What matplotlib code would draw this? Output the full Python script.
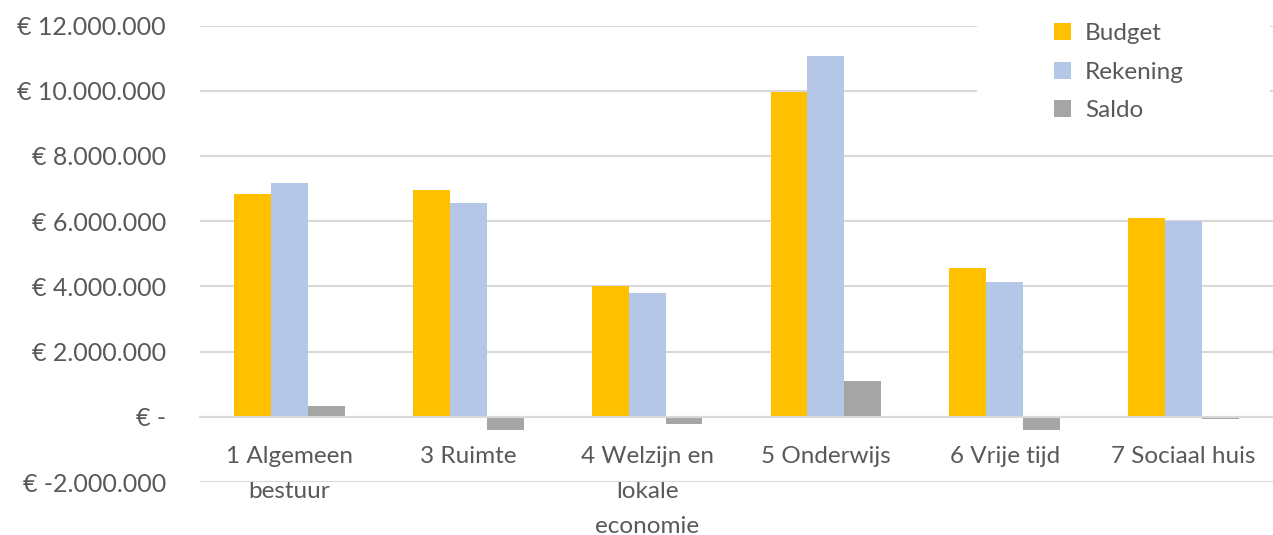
import matplotlib.pyplot as plt
from matplotlib.patches import Rectangle
import numpy as np

plt.rcParams['font.family'] = ['Lato', 'DejaVu Sans']

categories = ['1 Algemeen\nbestuur', '3 Ruimte', '4 Welzijn en\nlokale\neconomie',
              '5 Onderwijs', '6 Vrije tijd', '7 Sociaal huis']
budget = [6820000, 6960000, 4000000, 9970000, 4550000, 6100000]
rekening = [7160000, 6560000, 3790000, 11060000, 4120000, 6010000]
saldo = [340000, -410000, -210000, 1090000, -410000, -80000]

series = [('Budget', budget, '#FFC000'),
          ('Rekening', rekening, '#B4C7E7'),
          ('Saldo', saldo, '#A5A5A5')]

tekst = '#595959'
grid = '#D9D9D9'
fs = 17.5

def euro(v, pos=None):
    if v == 0:
        return '€ -'
    s = f'{abs(v):,.0f}'.replace(',', '.')
    return '€ ' + ('-' if v < 0 else '') + s

W, H = 1273, 535
fig = plt.figure(figsize=(W / 100, H / 100), dpi=100)
ax = fig.add_axes([200 / W, 1 - 482 / H, 1 - 200 / W, (482 - 25.5) / H])

x = np.arange(len(categories))
w = 0.206
for i, (naam, vals, kleur) in enumerate(series):
    ax.bar(x + (i - 1) * w, vals, w, color=kleur, label=naam, zorder=3)

ax.set_xlim(-0.5, len(categories) - 0.5)
ax.set_ylim(-2000000, 12000000)
ax.set_yticks(np.arange(-2000000, 12000001, 2000000))
ax.yaxis.set_major_formatter(plt.FuncFormatter(euro))
ax.grid(axis='y', color=grid, linewidth=1.5, zorder=0)

for s in ['top', 'right', 'left']:
    ax.spines[s].set_visible(False)
ax.spines['bottom'].set_position(('data', 0))
ax.spines['bottom'].set_color(grid)
ax.spines['bottom'].set_linewidth(1.5)
ax.spines['bottom'].set_zorder(4)

ax.set_xticks(x)
ax.set_xticklabels(categories, linespacing=1.82)
ax.tick_params(axis='x', length=0, pad=21, labelsize=fs, labelcolor=tekst)
ax.tick_params(axis='y', length=0, pad=24.5, labelsize=fs + 0.5, labelcolor=tekst)

# witte legendavlak over de rasterlijnen
fig.patches.append(Rectangle((977 / W, 1 - 135 / H), (1270 - 977) / W, 135 / H,
                             transform=fig.transFigure, facecolor='white',
                             edgecolor='none', zorder=4))

leg = fig.legend(loc='upper left', bbox_to_anchor=(1054 / W, 1 - 23 / H),
                 frameon=False, fontsize=fs, handlelength=0.7, handleheight=0.7,
                 handletextpad=0.58, labelspacing=0.72, borderpad=0, borderaxespad=0)
leg.set_zorder(5)
for t in leg.get_texts():
    t.set_color(tekst)

fig.savefig('out.png', dpi=100)
